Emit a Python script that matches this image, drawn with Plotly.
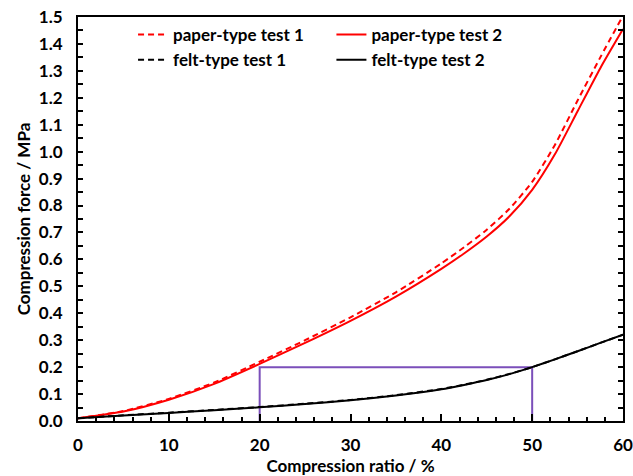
import plotly.graph_objects as go

ratio = [0, 5, 10, 15, 20, 25, 30, 35, 40, 42.5, 45, 47.5, 50, 52.5, 55, 57.5, 60]
paper_test1 = [0.01, 0.037, 0.082, 0.143, 0.22, 0.30, 0.385, 0.478, 0.585, 0.645, 0.71, 0.788, 0.888, 1.025, 1.19, 1.35, 1.505]
paper_test2 = [0.01, 0.035, 0.079, 0.138, 0.212, 0.29, 0.372, 0.462, 0.565, 0.622, 0.685, 0.76, 0.858, 0.99, 1.15, 1.31, 1.455]
felt_test1 = [0.01, 0.021, 0.031, 0.041, 0.052, 0.064, 0.078, 0.096, 0.119, 0.135, 0.153, 0.175, 0.2, 0.229, 0.259, 0.29, 0.32]
felt_test2 = [0.01, 0.02, 0.03, 0.04, 0.051, 0.063, 0.077, 0.095, 0.118, 0.134, 0.152, 0.174, 0.2, 0.229, 0.259, 0.29, 0.32]
box_x = [20, 20, 50, 50]
box_y = [0, 0.2, 0.2, 0]

FONT = dict(family="Lato", size=17, color="black", weight="bold")

fig = go.Figure()
fig.add_trace(go.Scatter(x=box_x, y=box_y, mode="lines", showlegend=False,
                         line=dict(color="#7B4FBA", width=2)))
fig.add_trace(go.Scatter(x=ratio, y=paper_test1, name="paper-type test 1", mode="lines",
                         line=dict(color="#FF0000", width=2, dash="6px,4px", shape="spline", smoothing=0.6), legend="legend"))
fig.add_trace(go.Scatter(x=ratio, y=paper_test2, name="paper-type test 2", mode="lines",
                         line=dict(color="#FF0000", width=2, shape="spline", smoothing=0.6), legend="legend2"))
fig.add_trace(go.Scatter(x=ratio, y=felt_test1, name="felt-type test 1", mode="lines",
                         line=dict(color="black", width=2, dash="6px,4px", shape="spline", smoothing=0.6), legend="legend"))
fig.add_trace(go.Scatter(x=ratio, y=felt_test2, name="felt-type test 2", mode="lines",
                         line=dict(color="black", width=2, shape="spline", smoothing=0.6), legend="legend2"))

legend_common = dict(font=FONT, bgcolor="rgba(0,0,0,0)", xanchor="left", yanchor="top",
                     tracegroupgap=0, itemwidth=30)
fig.update_layout(
    width=633, height=476,
    margin=dict(l=78, r=10, t=17, b=55, autoexpand=False),
    paper_bgcolor="white", plot_bgcolor="white",
    font=FONT,
    legend=dict(x=0.101, y=1.0, **legend_common),
    legend2=dict(x=0.465, y=1.0, **legend_common),
    xaxis=dict(range=[0, 60], dtick=10, tick0=0, showgrid=False, zeroline=False, automargin=False,
               showline=True, linecolor="black", linewidth=2, mirror=True,
               ticks="inside", ticklen=7, tickwidth=1.5, tickcolor="black",
               minor=dict(dtick=2, ticks="inside", ticklen=4, tickwidth=1.5, tickcolor="black", showgrid=False),
               tickfont=FONT, ticklabelstandoff=8,
               title=dict(text="Compression ratio / %", font=FONT, standoff=6)),
    yaxis=dict(range=[0, 1.5], dtick=0.1, tick0=0, tickformat=".1f", showgrid=False, zeroline=False, automargin=False,
               showline=True, linecolor="black", linewidth=2, mirror="ticks",
               ticks="inside", ticklen=5, tickwidth=1.5, tickcolor="black",
               minor=dict(dtick=0.05, ticks="inside", ticklen=5, tickwidth=1.5, tickcolor="black", showgrid=False),
               tickfont=FONT, ticklabelstandoff=10,
               title=dict(text="Compression force / MPa", font=FONT, standoff=4)),
)
fig.write_html("out.html")
